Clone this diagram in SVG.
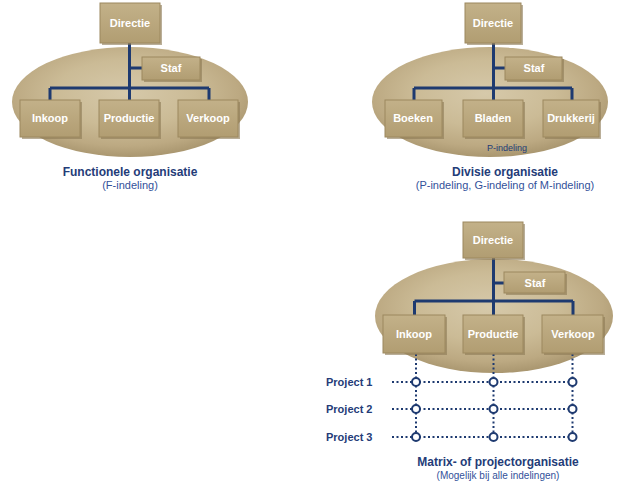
<svg xmlns="http://www.w3.org/2000/svg" width="623" height="489" viewBox="0 0 623 489">
<defs>
<radialGradient id="ell" cx="0.48" cy="0.42" r="0.6">
<stop offset="0" stop-color="#d6c9aa"/>
<stop offset="0.5" stop-color="#cbbb96"/>
<stop offset="0.8" stop-color="#bca982"/>
<stop offset="1" stop-color="#a6936c"/>
</radialGradient>
<linearGradient id="box" x1="0" y1="0" x2="0" y2="1">
<stop offset="0" stop-color="#c3b189"/>
<stop offset="1" stop-color="#b19d72"/>
</linearGradient>
<style>
.e{fill:url(#ell)}
.b{fill:url(#box);stroke:#9c885f;stroke-width:1}
.s{fill:#8c7a55;opacity:0.6}
.t{font-family:"Liberation Sans",Arial,sans-serif;font-weight:bold;font-size:11px;fill:#ffffff;text-anchor:middle}
.ln{stroke:#1e3a70;stroke-width:3;fill:none}
.dt{stroke:#1e3a70;stroke-width:2;stroke-dasharray:2 2.5;fill:none}
.c{fill:#ffffff;stroke:#1e3a70;stroke-width:2}
.h{font-family:"Liberation Sans",Arial,sans-serif;font-weight:bold;font-size:12px;fill:#243c78;text-anchor:middle}
.sub{font-family:"Liberation Sans",Arial,sans-serif;font-size:11px;fill:#33519a;text-anchor:middle}
.p{font-family:"Liberation Sans",Arial,sans-serif;font-weight:bold;font-size:11px;fill:#243c78}
.pi{font-family:"Liberation Sans",Arial,sans-serif;font-size:9px;fill:#243c78;text-anchor:middle}
</style>
</defs>

<!-- Diagram 1 -->
<ellipse class="e" cx="130" cy="102" rx="118" ry="55"/>
<g id="connectors1">
<path class="ln" d="M129.5 43V100M129.5 68H142M50 88H209M50 88V100M209 88V100"/>
</g>
<g id="d1-directie"><rect class="s" x="102" y="5" width="60" height="40"/><rect class="b" x="100" y="3" width="60" height="40"/><text class="t" x="130" y="27">Directie</text></g>
<g id="d1-staf"><rect class="s" x="144" y="59" width="58" height="23"/><rect class="b" x="142" y="57" width="58" height="23"/><text class="t" x="171" y="72">Staf</text></g>
<g id="d1-inkoop"><rect class="s" x="22" y="102" width="60" height="37"/><rect class="b" x="20" y="100" width="60" height="37"/><text class="t" x="50" y="122">Inkoop</text></g>
<g id="d1-productie"><rect class="s" x="101" y="102" width="60" height="37"/><rect class="b" x="99" y="100" width="60" height="37"/><text class="t" x="129" y="122">Productie</text></g>
<g id="d1-verkoop"><rect class="s" x="180" y="102" width="60" height="37"/><rect class="b" x="178" y="100" width="60" height="37"/><text class="t" x="208" y="122">Verkoop</text></g>
<text class="h" x="130" y="176">Functionele organisatie</text>
<text class="sub" x="130" y="189">(F-indeling)</text>

<!-- Diagram 2 -->
<ellipse class="e" cx="490" cy="102" rx="118" ry="55"/>
<g id="connectors2">
<path class="ln" d="M493.5 43V100M493.5 68H505M414 88H572M414 88V100M572 88V100"/>
</g>
<g id="d2-directie"><rect class="s" x="467" y="5" width="56" height="40"/><rect class="b" x="465" y="3" width="56" height="40"/><text class="t" x="493" y="27">Directie</text></g>
<g id="d2-staf"><rect class="s" x="507" y="59" width="57" height="23"/><rect class="b" x="505" y="57" width="57" height="23"/><text class="t" x="534" y="72">Staf</text></g>
<g id="d2-boeken"><rect class="s" x="387" y="102" width="57" height="37"/><rect class="b" x="385" y="100" width="57" height="37"/><text class="t" x="413" y="122">Boeken</text></g>
<g id="d2-bladen"><rect class="s" x="465" y="102" width="60" height="37"/><rect class="b" x="463" y="100" width="60" height="37"/><text class="t" x="493" y="122">Bladen</text></g>
<g id="d2-drukkerij"><rect class="s" x="545" y="102" width="56" height="37"/><rect class="b" x="543" y="100" width="56" height="37"/><text class="t" x="571" y="122">Drukkerij</text></g>
<text class="pi" x="507" y="151">P-indeling</text>
<text class="h" x="505" y="176">Divisie organisatie</text>
<text class="sub" x="505" y="189">(P-indeling, G-indeling of M-indeling)</text>

<!-- Diagram 3 -->
<ellipse class="e" cx="494" cy="316" rx="119" ry="57"/>
<g id="connectors3">
<path class="ln" d="M493.5 258V315M493.5 283H504M414.5 301H573M414.5 301V315M573 301V315"/>
<path class="dt" d="M416 354V437M493.5 354V437M572.5 354V437M392 382H572M392 409H572M392 437H572"/>
<circle class="c" cx="416" cy="382" r="4"/><circle class="c" cx="493.5" cy="382" r="4"/><circle class="c" cx="572.5" cy="382" r="4"/>
<circle class="c" cx="416" cy="409" r="4"/><circle class="c" cx="493.5" cy="409" r="4"/><circle class="c" cx="572.5" cy="409" r="4"/>
<circle class="c" cx="416" cy="437" r="4"/><circle class="c" cx="493.5" cy="437" r="4"/><circle class="c" cx="572.5" cy="437" r="4"/>
</g>
<g id="d3-directie"><rect class="s" x="465" y="224" width="60" height="36"/><rect class="b" x="463" y="222" width="60" height="36"/><text class="t" x="493" y="244">Directie</text></g>
<g id="d3-staf"><rect class="s" x="506" y="274" width="61" height="21"/><rect class="b" x="504" y="272" width="61" height="21"/><text class="t" x="535" y="287">Staf</text></g>
<g id="d3-inkoop"><rect class="s" x="385" y="317" width="62" height="38"/><rect class="b" x="383" y="315" width="62" height="38"/><text class="t" x="414" y="338">Inkoop</text></g>
<g id="d3-productie"><rect class="s" x="465" y="317" width="60" height="38"/><rect class="b" x="463" y="315" width="60" height="38"/><text class="t" x="493" y="338">Productie</text></g>
<g id="d3-verkoop"><rect class="s" x="544" y="317" width="61" height="38"/><rect class="b" x="542" y="315" width="61" height="38"/><text class="t" x="573" y="338">Verkoop</text></g>
<text class="p" x="326" y="386">Project 1</text>
<text class="p" x="326" y="413">Project 2</text>
<text class="p" x="326" y="441">Project 3</text>
<text class="h" x="498" y="466">Matrix- of projectorganisatie</text>
<text class="sub" x="498" y="479" style="font-size:10px">(Mogelijk bij alle indelingen)</text>
</svg>
